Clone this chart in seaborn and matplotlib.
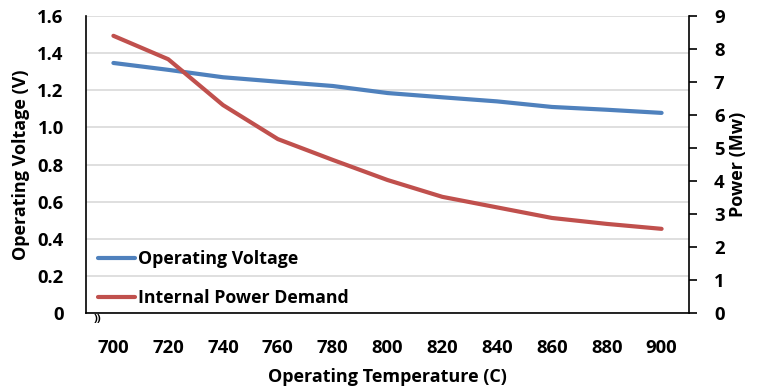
import matplotlib
matplotlib.use("Agg")
import matplotlib.pyplot as plt
import seaborn as sns
import pandas as pd

temps = [700, 720, 740, 760, 780, 800, 820, 840, 860, 880, 900]
voltage = [1.347, 1.31, 1.27, 1.246, 1.223, 1.185, 1.162, 1.14, 1.11, 1.095, 1.078]
power = [8.4, 7.69, 6.3, 5.27, 4.64, 4.03, 3.52, 3.2, 2.88, 2.7, 2.55]

sns.set_theme(style="white")
plt.rcParams['font.family'] = ['Open Sans', 'DejaVu Sans']
plt.rcParams['font.weight'] = 'bold'
plt.rcParams['text.color'] = 'black'
plt.rcParams['axes.labelcolor'] = 'black'
plt.rcParams['xtick.color'] = 'black'
plt.rcParams['ytick.color'] = 'black'

df_v = pd.DataFrame({"temp": temps, "val": voltage})
df_p = pd.DataFrame({"temp": temps, "val": power})

fig = plt.figure(figsize=(7.57, 3.91), dpi=100)
ax = fig.add_axes([86/757, 1-313/391, (689-86)/757, (313-16)/391])
ax2 = ax.twinx()

blue = "#4F81BD"
red = "#C0504D"

sns.lineplot(data=df_v, x="temp", y="val", ax=ax, color=blue, lw=3, label="Operating Voltage", legend=False)
sns.lineplot(data=df_p, x="temp", y="val", ax=ax2, color=red, lw=3, label="Internal Power Demand", legend=False)

ax.set_xlim(690, 910)
ax.set_ylim(0, 1.6)
ax2.set_ylim(0, 9)
ax.set_xticks(temps)
ax.set_xticklabels([str(t) for t in temps])
ax.set_yticks([0, 0.2, 0.4, 0.6, 0.8, 1.0, 1.2, 1.4, 1.6])
ax.set_yticklabels(["0", "0.2", "0.4", "0.6", "0.8", "1.0", "1.2", "1.4", "1.6"])
ax2.set_yticks(range(0, 10))

ax.grid(axis="y", color="#d9d9d9", lw=1.2)
ax.set_axisbelow(True)
for a in (ax, ax2):
    for s in a.spines.values():
        s.set_visible(False)
ax.spines["left"].set_visible(True)
ax.spines["bottom"].set_visible(True)
ax2.spines["right"].set_visible(True)
for s in (ax.spines["left"], ax.spines["bottom"], ax2.spines["right"]):
    s.set_color("black")
    s.set_linewidth(1.2)

fs = 13.3
ax.tick_params(axis="x", length=0, pad=19, labelsize=fs)
ax.tick_params(axis="y", length=0, pad=16, labelsize=fs)
ax2.tick_params(axis="y", length=6, width=1.2, color="black", direction="out", pad=12, labelsize=fs, right=True)
for lbl in ax.get_xticklabels() + ax.get_yticklabels() + ax2.get_yticklabels():
    lbl.set_fontweight("bold")

lfs = 13
ax.set_xlabel("Operating Temperature (C)", fontsize=lfs, fontweight="bold", labelpad=8)
ax.set_ylabel("Operating Voltage (V)", fontsize=lfs, fontweight="bold", labelpad=5)
ax2.set_ylabel("Power (Mw)", fontsize=lfs, fontweight="bold", labelpad=3)

h1, l1 = ax.get_legend_handles_labels()
h2, l2 = ax2.get_legend_handles_labels()
leg = ax.legend(h1 + h2, l1 + l2, loc="lower left", bbox_to_anchor=(0.006, -0.008), frameon=False,
                fontsize=12.8, handlelength=2.1, handletextpad=0.15, labelspacing=1.2,
                borderaxespad=0.2, borderpad=0.25)
for t in leg.get_texts():
    t.set_fontweight("bold")

# axis break mark
ax.text(0.012, -0.003, "))", transform=ax.transAxes, fontsize=8, va="top", ha="left", color="black")

fig.savefig("out.png", dpi=100)
